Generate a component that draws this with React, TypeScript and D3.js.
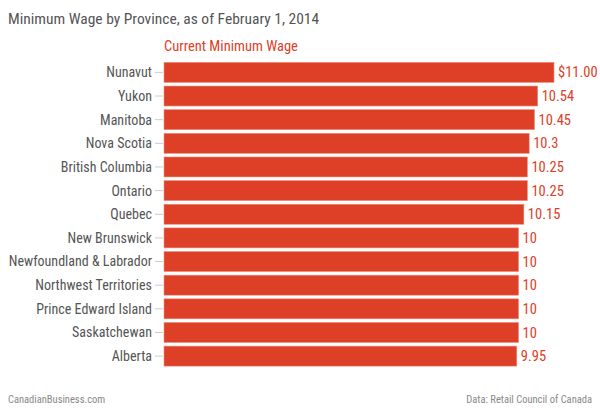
import React from "react";
import * as d3 from "d3";

const provinces = [
  "Nunavut",
  "Yukon",
  "Manitoba",
  "Nova Scotia",
  "British Columbia",
  "Ontario",
  "Quebec",
  "New Brunswick",
  "Newfoundland & Labrador",
  "Northwest Territories",
  "Prince Edward Island",
  "Saskatchewan",
  "Alberta",
];
const wages = [11.0, 10.54, 10.45, 10.3, 10.25, 10.25, 10.15, 10, 10, 10, 10, 10, 9.95];
const wageLabels = ["$11.00", "10.54", "10.45", "10.3", "10.25", "10.25", "10.15", "10", "10", "10", "10", "10", "9.95"];

const W = 600;
const H = 409;
const FONT = "'Liberation Sans Narrow', 'Roboto Condensed', 'Arial Narrow', Roboto, sans-serif";
const RED = "#dd4027";

export default function App() {
  const x = d3.scaleLinear().domain([0, 11]).range([164, 554]);
  const y = d3
    .scaleBand<string>()
    .domain(provinces)
    .range([60.5, 368])
    .paddingInner(0.155)
    .paddingOuter(0.08);
  return (
    <svg
      width={W}
      height={H}
      style={{ position: "absolute", left: 0, top: 0, background: "#fff" }}
      fontFamily={FONT}
    >
      <text x={8} y={24} fontSize={15.5} fill="#555">
        Minimum Wage by Province, as of February 1, 2014
      </text>
      <text x={164} y={51} fontSize={14.5} fill={RED}>
        Current Minimum Wage
      </text>
      {provinces.map((p, i) => {
        const yy = y(p)!;
        const bh = y.bandwidth();
        const cy = yy + bh / 2;
        return (
          <g key={p}>
            <line x1={155} x2={163} y1={cy} y2={cy} stroke="#ccc" strokeWidth={1} />
            <text x={152} y={cy} dy="0.35em" textAnchor="end" fontSize={14} fill="#555">
              {p}
            </text>
            <rect
              x={x(0)}
              y={yy}
              width={x(wages[i]) - x(0)}
              height={bh}
              fill={RED}
              stroke="#f08a78"
              strokeWidth={0.6}
            />
            <text x={x(wages[i]) + 4} y={cy} dy="0.35em" fontSize={14.5} fill={RED}>
              {wageLabels[i]}
            </text>
          </g>
        );
      })}
      <text x={8} y={403} fontSize={10.5} fill="#888">
        CanadianBusiness.com
      </text>
      <text x={592} y={403} fontSize={10.5} fill="#888" textAnchor="end">
        Data: Retail Council of Canada
      </text>
    </svg>
  );
}
